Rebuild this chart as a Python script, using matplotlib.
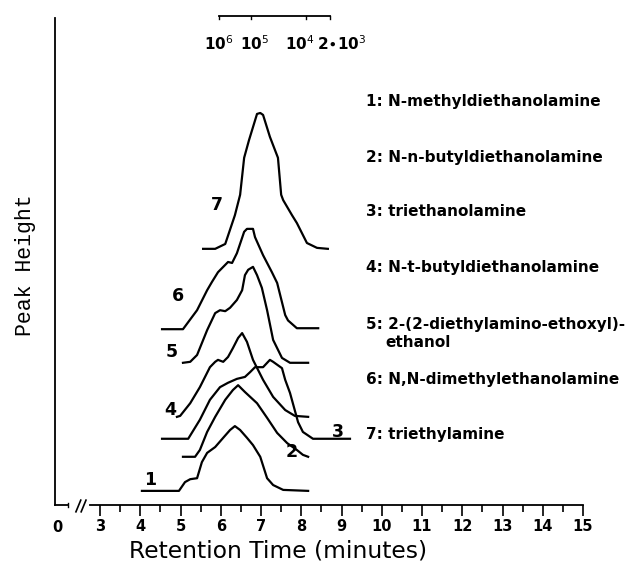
import matplotlib
matplotlib.use("Agg")
import matplotlib.pyplot as plt

# retention time (min) / peak height (arbitrary, offset per trace)
t1 = [4.04, 4.96, 5.11, 5.24, 5.41, 5.53, 5.66, 5.86, 6.06, 6.23, 6.35, 6.48, 6.65, 6.80, 6.98, 7.15, 7.30, 7.55, 8.17]
h1 = [2.9, 2.9, 4.7, 5.3, 5.5, 8.8, 10.7, 11.9, 13.8, 15.4, 16.2, 15.4, 13.8, 12.3, 9.9, 5.5, 4.1, 3.1, 2.9]

t2 = [5.06, 5.36, 5.48, 5.66, 5.86, 6.11, 6.30, 6.43, 6.60, 6.90, 7.15, 7.40, 7.65, 7.89, 8.04, 8.17]
h2 = [9.9, 9.9, 11.3, 15.0, 18.1, 21.6, 23.6, 24.6, 23.2, 20.9, 17.9, 14.8, 12.7, 11.3, 10.3, 9.9]

t3 = [4.54, 5.19, 5.48, 5.73, 5.98, 6.18, 6.40, 6.60, 6.73, 6.85, 7.05, 7.22, 7.30, 7.52, 7.60, 7.72, 7.92, 8.04, 8.29, 9.21]
h3 = [13.6, 13.6, 17.5, 21.6, 24.2, 25.1, 25.9, 26.3, 27.3, 28.3, 28.3, 29.8, 29.4, 28.1, 25.7, 23.0, 17.0, 15.0, 13.6, 13.6]

t4 = [4.91, 4.99, 5.24, 5.48, 5.73, 5.86, 5.93, 6.06, 6.18, 6.30, 6.43, 6.53, 6.65, 6.80, 7.05, 7.30, 7.60, 7.84, 8.17]
h4 = [18.1, 18.3, 20.9, 24.2, 28.3, 29.4, 29.8, 29.4, 30.4, 32.2, 34.3, 35.3, 33.5, 29.8, 25.7, 22.2, 19.5, 18.3, 18.1]

t5 = [5.06, 5.24, 5.41, 5.66, 5.86, 5.98, 6.11, 6.23, 6.40, 6.53, 6.60, 6.68, 6.80, 6.90, 7.02, 7.15, 7.30, 7.52, 7.72, 8.17]
h5 = [29.2, 29.4, 30.8, 35.9, 39.4, 40.0, 39.8, 40.5, 42.1, 44.1, 47.2, 48.3, 48.9, 47.2, 44.6, 40.0, 33.9, 30.2, 29.2, 29.2]

t6 = [4.54, 5.06, 5.41, 5.66, 5.78, 5.93, 6.18, 6.28, 6.40, 6.58, 6.65, 6.80, 6.85, 7.05, 7.27, 7.40, 7.60, 7.67, 7.89, 8.42]
h6 = [36.1, 36.1, 40.0, 44.1, 45.8, 47.8, 49.9, 49.7, 51.7, 56.1, 56.7, 56.7, 55.0, 51.3, 47.8, 45.6, 39.0, 37.9, 36.3, 36.3]

t7 = [5.56, 5.86, 6.11, 6.35, 6.48, 6.58, 6.70, 6.90, 6.98, 7.05, 7.22, 7.42, 7.50, 7.55, 7.77, 7.89, 8.14, 8.39, 8.66]
h7 = [52.6, 52.6, 53.6, 59.5, 63.7, 71.3, 74.9, 80.3, 80.5, 80.1, 75.6, 71.3, 63.7, 62.6, 59.5, 57.9, 53.8, 52.8, 52.6]

trace_ids = ["1", "2", "3", "4", "5", "6", "7"]
label_t = [4.24, 7.75, 8.91, 4.74, 4.79, 4.94, 5.91]
label_h = [5.1, 10.9, 15.0, 19.5, 31.4, 42.9, 61.6]

compounds = [
    "1: N-methyldiethanolamine",
    "2: N-n-butyldiethanolamine",
    "3: triethanolamine",
    "4: N-t-butyldiethanolamine",
    "5: 2-(2-diethylamino-ethoxyl)-",
    "6: N,N-dimethylethanolamine",
    "7: triethylamine",
]
compound_h = [82.8, 71.3, 60.2, 48.7, 37.0, 25.7, 14.4]

# molecular weight calibration bar on top
mw_t = [5.96, 6.75, 8.12, 8.71]
mw_labels = ["10$^6$", "10$^5$", "10$^4$", "2$\\bullet$10$^3$"]
mw_label_t = [5.96, 6.83, 7.97, 9.01]

xticks = list(range(3, 16))

plt.rcParams["mathtext.fontset"] = "dejavusans"

fig = plt.figure(figsize=(6.27, 5.73), dpi=100)
ax = fig.add_axes([55 / 627, 68 / 573, 528 / 627, 487 / 573])
ax.set_xlim(1.88, 15)
ax.set_ylim(0, 100)

lw = 1.6
for t, h in [(t1, h1), (t2, h2), (t3, h3), (t4, h4), (t5, h5), (t6, h6), (t7, h7)]:
    ax.plot(t, h, color="black", lw=lw, solid_joinstyle="round")

for s, x, y in zip(trace_ids, label_t, label_h):
    ax.text(x, y, s, fontsize=12.5, fontweight="bold", ha="center", va="center",
            family="DejaVu Sans")

for s, y in zip(compounds, compound_h):
    ax.text(9.61, y, s, fontsize=11, fontweight="bold", ha="left", va="center",
            family="DejaVu Sans")
ax.text(10.08, 33.3, "ethanol", fontsize=11, fontweight="bold", ha="left", va="center",
        family="DejaVu Sans")

# MW bar
ax.plot([mw_t[0], mw_t[-1]], [100.4, 100.4], color="black", lw=1.3, clip_on=False)
for x in mw_t:
    ax.plot([x, x], [100.4, 99.7], color="black", lw=1.0, clip_on=False)
for s, x in zip(mw_labels, mw_label_t):
    ax.text(x, 94.7, s, fontsize=11, fontweight="bold", ha="center", va="center",
            family="DejaVu Sans")

# axes styling
for side in ["top", "right"]:
    ax.spines[side].set_visible(False)
ax.spines["left"].set_linewidth(1.3)
ax.spines["bottom"].set_linewidth(1.3)
ax.spines["bottom"].set_bounds(2.75, 15)
ax.set_yticks([])
ax.set_xticks(xticks)
ax.set_xticklabels([str(v) for v in xticks], family="DejaVu Sans", fontsize=10.5,
                   fontweight="bold")
ax.set_xticks([v + 0.5 for v in xticks[:-1]], minor=True)
ax.tick_params(axis="x", which="major", direction="out", length=8, width=1.2, pad=2)
ax.tick_params(axis="x", which="minor", direction="out", length=5, width=1.2)

# broken axis piece near zero
ax.plot([1.88, 2.2], [0, 0], color="black", lw=1.3, clip_on=False)
ax.plot([2.2, 2.2], [0.4, -0.4], color="black", lw=1.0, clip_on=False)
for x0 in [2.40, 2.53]:
    ax.plot([x0, x0 + 0.12], [-1.4, 1.0], color="black", lw=1.2, clip_on=False)
ax.text(1.93, -4.6, "0", fontsize=10.5, fontweight="bold", ha="center", va="center",
        family="DejaVu Sans")

ax.set_xlabel("Retention Time (minutes)", fontsize=16.8, family="DejaVu Sans")
ax.xaxis.set_label_coords((278 - 55) / 528, -(540 - 505) / 487)
ax.set_ylabel("Peak Height", fontsize=15.5, family="Liberation Mono")
ax.yaxis.set_label_coords(-(55 - 36) / 528, (505 - 265) / 487)

fig.savefig("out.png", dpi=100)
